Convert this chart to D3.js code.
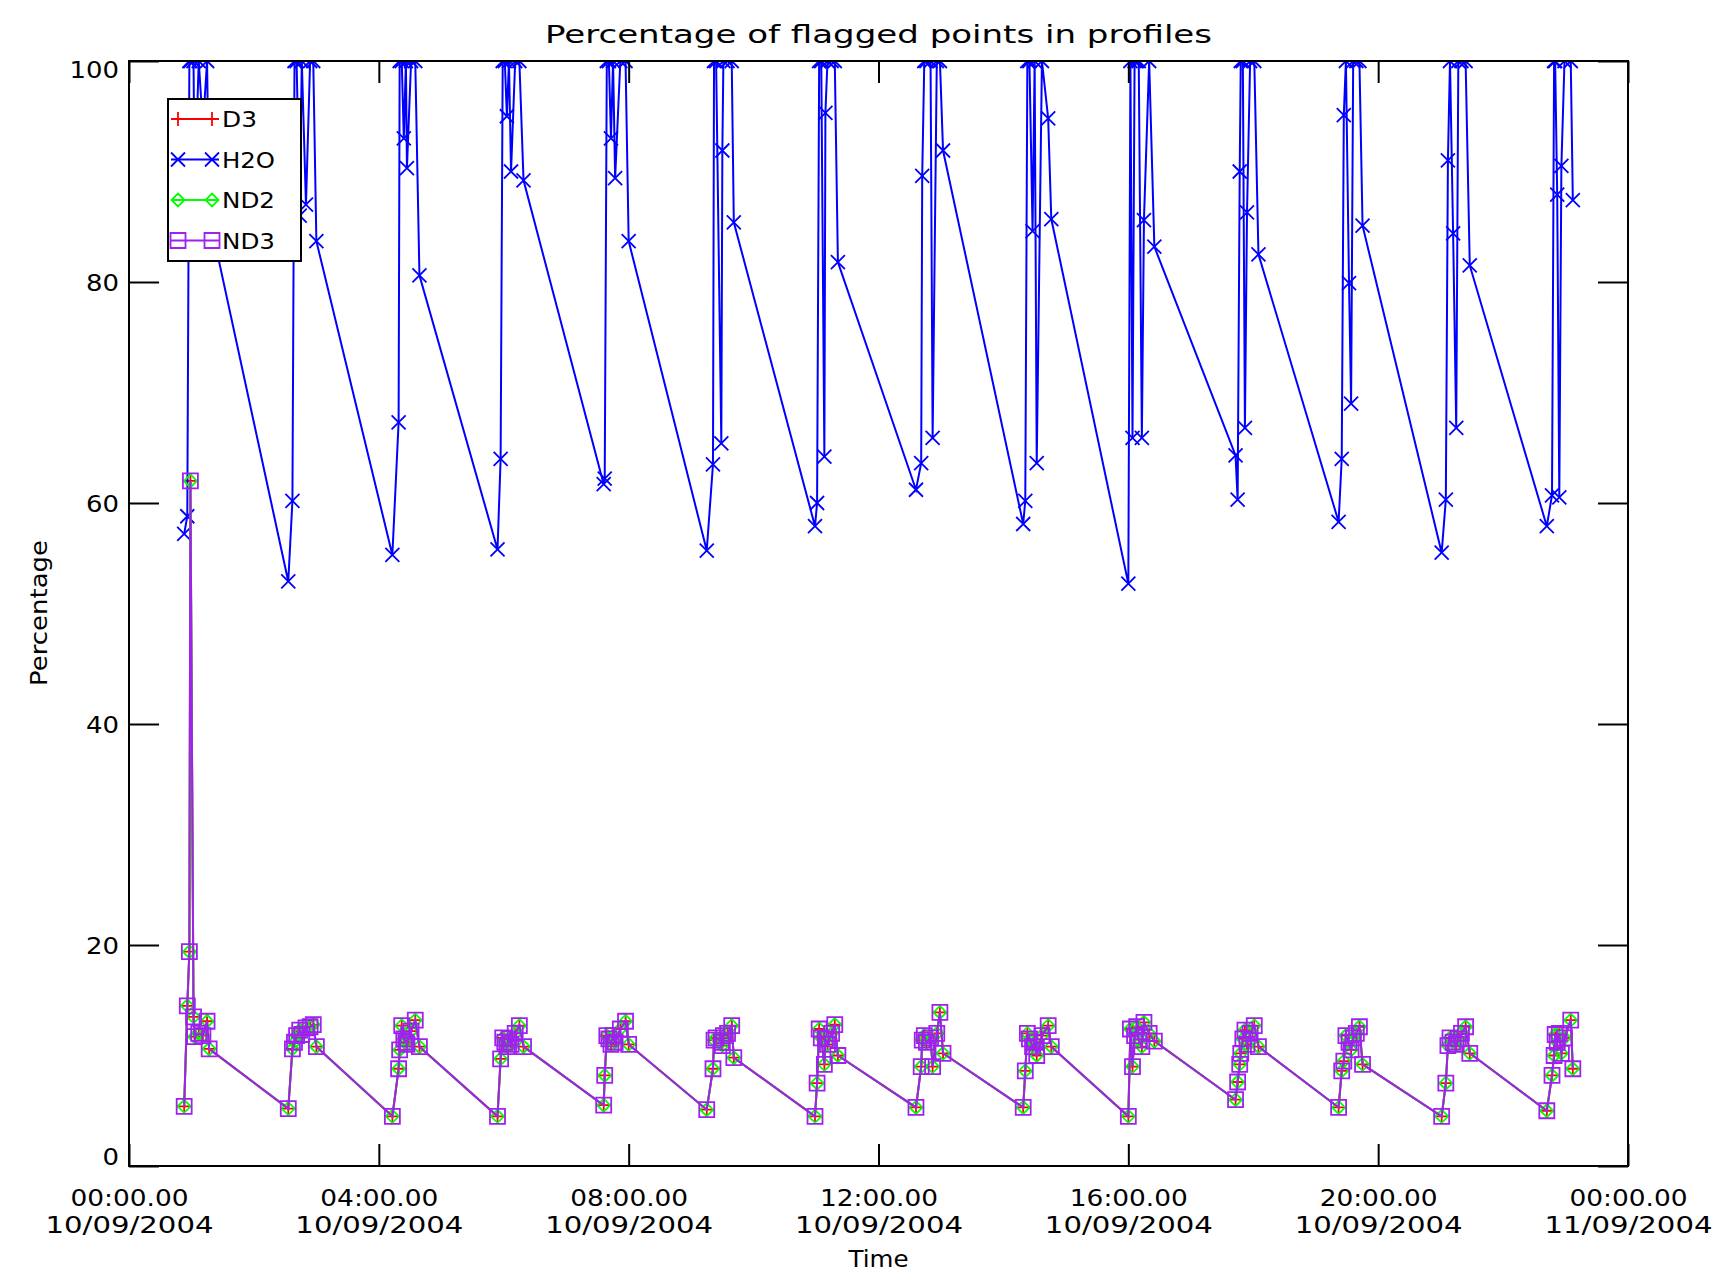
<!DOCTYPE html>
<html>
<head>
<meta charset="utf-8">
<script src="https://cdn.jsdelivr.net/npm/d3@7"></script>
<style>
  body { margin: 0; background: #ffffff; }
  svg text { font-family: "DejaVu Sans", sans-serif; fill: #000000; }
</style>
</head>
<body>
<div id="vis"></div>
<script>
// profile times, minutes after 00:00 on 10/09/2004 (one row per burst of profiles)
const minutes = [
  53, 56, 58, 59, 62, 63, 67, 71, 75, 77,
  153, 157, 159, 161, 164, 166, 170, 174, 177, 180,
  253, 259, 260, 262, 264, 266, 267, 271, 275, 279,
  354, 357, 359, 361, 363, 365, 367, 371, 375, 379,
  456, 457, 459, 461, 463, 465, 467, 472, 477, 480,
  555, 561, 562, 564, 569, 570, 571, 575, 579, 581,
  659, 661, 663, 665, 668, 669, 671, 675, 678, 681,
  756, 761, 762, 764, 766, 770, 772, 776, 779, 782,
  859, 861, 863, 865, 868, 870, 872, 877, 883, 886,
  960, 962, 964, 966, 968, 970, 973, 975, 980, 985,
  1063, 1065, 1067, 1068, 1070, 1072, 1074, 1077, 1081, 1085,
  1162, 1165, 1167, 1169, 1172, 1174, 1176, 1179, 1182, 1185,
  1261, 1265, 1267, 1269, 1272, 1275, 1277, 1280, 1284, 1288,
  1362, 1367, 1369, 1370, 1372, 1374, 1376, 1379, 1385, 1387
];

const h2oPct = [
  57.2, 58.8, 100, 100, 100, 88, 100, 94, 100, 86,
  52.9, 60.2, 100, 100, 86, 100, 87, 100, 100, 83.7,
  55.3, 67.3, 100, 100, 93, 100, 90.3, 100, 100, 80.6,
  55.8, 64, 100, 100, 95, 100, 90, 100, 100, 89.2,
  61.7, 62.2, 100, 100, 93, 100, 89.4, 100, 100, 83.7,
  55.7, 63.5, 100, 100, 65.4, 91.9, 100, 100, 100, 85.4,
  57.9, 60, 100, 100, 64.2, 95.3, 100, 100, 100, 81.8,
  61.2, 63.6, 89.6, 100, 100, 100, 65.9, 100, 100, 91.9,
  58.1, 60.2, 100, 100, 84.6, 100, 63.6, 100, 94.8, 85.7,
  52.7, 100, 65.9, 100, 100, 100, 65.9, 85.6, 100, 83.2,
  64.3, 60.3, 90, 100, 100, 66.8, 86.3, 100, 100, 82.5,
  58.3, 64, 95.1, 100, 79.9, 69, 100, 100, 100, 85.1,
  55.5, 60.3, 91, 100, 84.4, 66.8, 100, 100, 100, 81.5,
  57.9, 60.7, 100, 100, 87.9, 60.5, 90.5, 100, 100, 87.4
];

const nd3Pct = [
  5.4, 14.5, 19.4, 62, 13.5, 11.7, 12.0, 11.8, 13.1, 10.6,
  5.2, 10.6, 11.2, 11.8, 12.3, 11.9, 12.5, 12.6, 12.8, 10.8,
  4.5, 8.8, 10.5, 12.7, 11.5, 11.2, 11.0, 12.2, 13.2, 10.8,
  4.5, 9.7, 11.6, 11.2, 10.8, 11.5, 11.0, 12.0, 12.7, 10.8,
  5.5, 8.2, 11.8, 11.5, 11.0, 11.8, 11.2, 12.4, 13.1, 11.0,
  5.1, 8.8, 11.4, 11.6, 11.2, 10.9, 11.8, 12.0, 12.7, 9.8,
  4.5, 7.5, 12.4, 11.6, 9.2, 11.5, 11.0, 12.0, 12.8, 10.0,
  5.3, 9.0, 11.4, 11.8, 11.2, 11.6, 9.0, 12.0, 13.9, 10.2,
  5.3, 8.6, 12.0, 11.5, 10.8, 11.2, 10.0, 11.8, 12.7, 10.8,
  4.5, 12.4, 9.0, 11.8, 12.6, 11.4, 10.8, 13.0, 12.0, 11.3,
  6.0, 7.6, 9.2, 10.2, 11.5, 12.3, 11.0, 12.0, 12.7, 10.8,
  5.3, 8.6, 9.5, 11.8, 11.2, 10.5, 11.6, 12.0, 12.6, 9.2,
  4.5, 7.5, 10.9, 11.6, 11.2, 11.0, 11.5, 12.0, 12.6, 10.2,
  5.0, 8.2, 10.0, 11.9, 11.2, 12.0, 10.2, 11.6, 13.2, 8.8
];

// D3 and ND2 sit exactly under ND3 in the plot
const d3Pct = nd3Pct.slice();
const nd2Pct = nd3Pct.slice();

const seriesNames = ["D3", "H2O", "ND2", "ND3"];
const tickHours = [0, 4, 8, 12, 16, 20, 24];
const yTicks = [0, 20, 40, 60, 80, 100];

// symbols, roughly like IDL psym 1, 7, 4, 6
const sym = {
  plus: s => `M${-s},0H${s}M0,${-s}V${s}`,
  cross: s => `M${-s},${-s}L${s},${s}M${-s},${s}L${s},${-s}`,
  diamond: s => `M0,${-s}L${s},0L0,${s}L${-s},0Z`,
  square: s => `M${-s},${-s}H${s}V${s}H${-s}Z`
};

const series = [
  { name: seriesNames[0], values: d3Pct, color: "#ff0000", shape: sym.plus, size: 7 },
  { name: seriesNames[1], values: h2oPct, color: "#0000ff", shape: sym.cross, size: 7 },
  { name: seriesNames[2], values: nd2Pct, color: "#00ff00", shape: sym.diamond, size: 6.5 },
  { name: seriesNames[3], values: nd3Pct, color: "#a020f0", shape: sym.square, size: 7.5 }
];

const W = 1732, H = 1281;
const plot = { left: 129, right: 1628, top: 61, bottom: 1166 };

const day = h => new Date(Date.UTC(2004, 8, 10, h));

var svg = d3.select("#vis").append("svg")
  .attr("width", W)
  .attr("height", H);

var x = d3.scaleUtc()
  .domain([day(0), day(24)])
  .range([plot.left, plot.right]);

var y = d3.scaleLinear()
  .domain([0, 100])
  .range([plot.bottom, plot.top]);

svg.append("clipPath").attr("id", "clip")
  .append("rect")
  .attr("x", plot.left).attr("y", plot.top)
  .attr("width", plot.right - plot.left)
  .attr("height", plot.bottom - plot.top);

// data
var layer = svg.append("g").attr("clip-path", "url(#clip)");

series.forEach(s => {
  var pts = minutes.map((m, i) => ({ t: new Date(Date.UTC(2004, 8, 10, 0, m)), v: s.values[i] }));
  var line = d3.line().x(d => x(d.t)).y(d => y(d.v));
  var g = layer.append("g");
  g.append("path")
    .attr("d", line(pts))
    .attr("fill", "none")
    .attr("stroke", s.color)
    .attr("stroke-width", 2);
  g.selectAll("path.mk")
    .data(pts)
    .enter()
    .append("path")
    .attr("class", "mk")
    .attr("transform", d => "translate(" + x(d.t) + "," + y(d.v) + ")")
    .attr("d", s.shape(s.size))
    .attr("fill", "none")
    .attr("stroke", s.color)
    .attr("stroke-width", 1.8);
});

// axes: ticks point inward like IDL
var tickDates = tickHours.map(day);
var fmtTime = d3.utcFormat("%H:%M.%S");
var fmtDate = d3.utcFormat("%d/%m/%Y");

var xb = svg.append("g")
  .attr("transform", "translate(0," + plot.bottom + ")")
  .call(d3.axisBottom(x).tickValues(tickDates).tickSizeInner(-22).tickSizeOuter(0).tickFormat(""));
xb.selectAll(".tick").each(function (d) {
  var t = d3.select(this).append("text")
    .attr("text-anchor", "middle")
    .style("font-size", "23px");
  t.append("tspan").attr("x", 0).attr("y", 40)
    .attr("textLength", 118).attr("lengthAdjust", "spacingAndGlyphs")
    .text(fmtTime(d));
  t.append("tspan").attr("x", 0).attr("y", 67)
    .attr("textLength", 168).attr("lengthAdjust", "spacingAndGlyphs")
    .text(fmtDate(d));
});

svg.append("g")
  .attr("transform", "translate(0," + plot.top + ")")
  .call(d3.axisTop(x).tickValues(tickDates).tickSizeInner(-22).tickSizeOuter(0).tickFormat(""));

var yl = svg.append("g")
  .attr("transform", "translate(" + plot.left + ",0)")
  .call(d3.axisLeft(y).tickValues(yTicks).tickSizeInner(-30).tickSizeOuter(0).tickPadding(10));
yl.selectAll(".tick text")
  .style("font-size", "23px")
  .attr("textLength", d => String(d).length * 16.5)
  .attr("lengthAdjust", "spacingAndGlyphs")
  .attr("dy", d => d === 100 ? "0.72em" : d === 0 ? "-0.05em" : "0.35em");

svg.append("g")
  .attr("transform", "translate(" + plot.right + ",0)")
  .call(d3.axisRight(y).tickValues(yTicks).tickSizeInner(-30).tickSizeOuter(0).tickFormat(""));

svg.selectAll(".tick line").attr("stroke", "#000").attr("stroke-width", 2);
svg.selectAll(".domain").remove();

svg.append("rect")
  .attr("x", plot.left).attr("y", plot.top)
  .attr("width", plot.right - plot.left)
  .attr("height", plot.bottom - plot.top)
  .attr("fill", "none")
  .attr("stroke", "#000")
  .attr("stroke-width", 2);

// titles
svg.append("text")
  .attr("x", (plot.left + plot.right) / 2).attr("y", 43)
  .attr("text-anchor", "middle")
  .attr("textLength", 667).attr("lengthAdjust", "spacingAndGlyphs")
  .style("font-size", "25px")
  .text("Percentage of flagged points in profiles");

svg.append("text")
  .attr("x", (plot.left + plot.right) / 2).attr("y", 1267)
  .attr("text-anchor", "middle")
  .attr("textLength", 60).attr("lengthAdjust", "spacingAndGlyphs")
  .style("font-size", "23px")
  .text("Time");

svg.append("text")
  .attr("transform", "translate(47,613) rotate(-90)")
  .attr("text-anchor", "middle")
  .attr("textLength", 146).attr("lengthAdjust", "spacingAndGlyphs")
  .style("font-size", "23px")
  .text("Percentage");

// legend
var legend = svg.append("g");
legend.append("rect")
  .attr("x", 168).attr("y", 99)
  .attr("width", 133).attr("height", 162)
  .attr("fill", "#fff")
  .attr("stroke", "#000")
  .attr("stroke-width", 2);

series.forEach((s, i) => {
  var cy = 119 + i * 40.5;
  var row = legend.append("g");
  row.append("line")
    .attr("x1", 171).attr("x2", 219)
    .attr("y1", cy).attr("y2", cy)
    .attr("stroke", s.color).attr("stroke-width", 2);
  [178, 212].forEach(cx => {
    row.append("path")
      .attr("transform", "translate(" + cx + "," + cy + ")")
      .attr("d", s.shape(s.size))
      .attr("fill", "none")
      .attr("stroke", s.color)
      .attr("stroke-width", 1.8);
  });
  row.append("text")
    .attr("x", 222).attr("y", cy + 8)
    .attr("textLength", s.name.length === 2 ? 35 : 53)
    .attr("lengthAdjust", "spacingAndGlyphs")
    .style("font-size", "22px")
    .text(s.name);
});
</script>
</body>
</html>
